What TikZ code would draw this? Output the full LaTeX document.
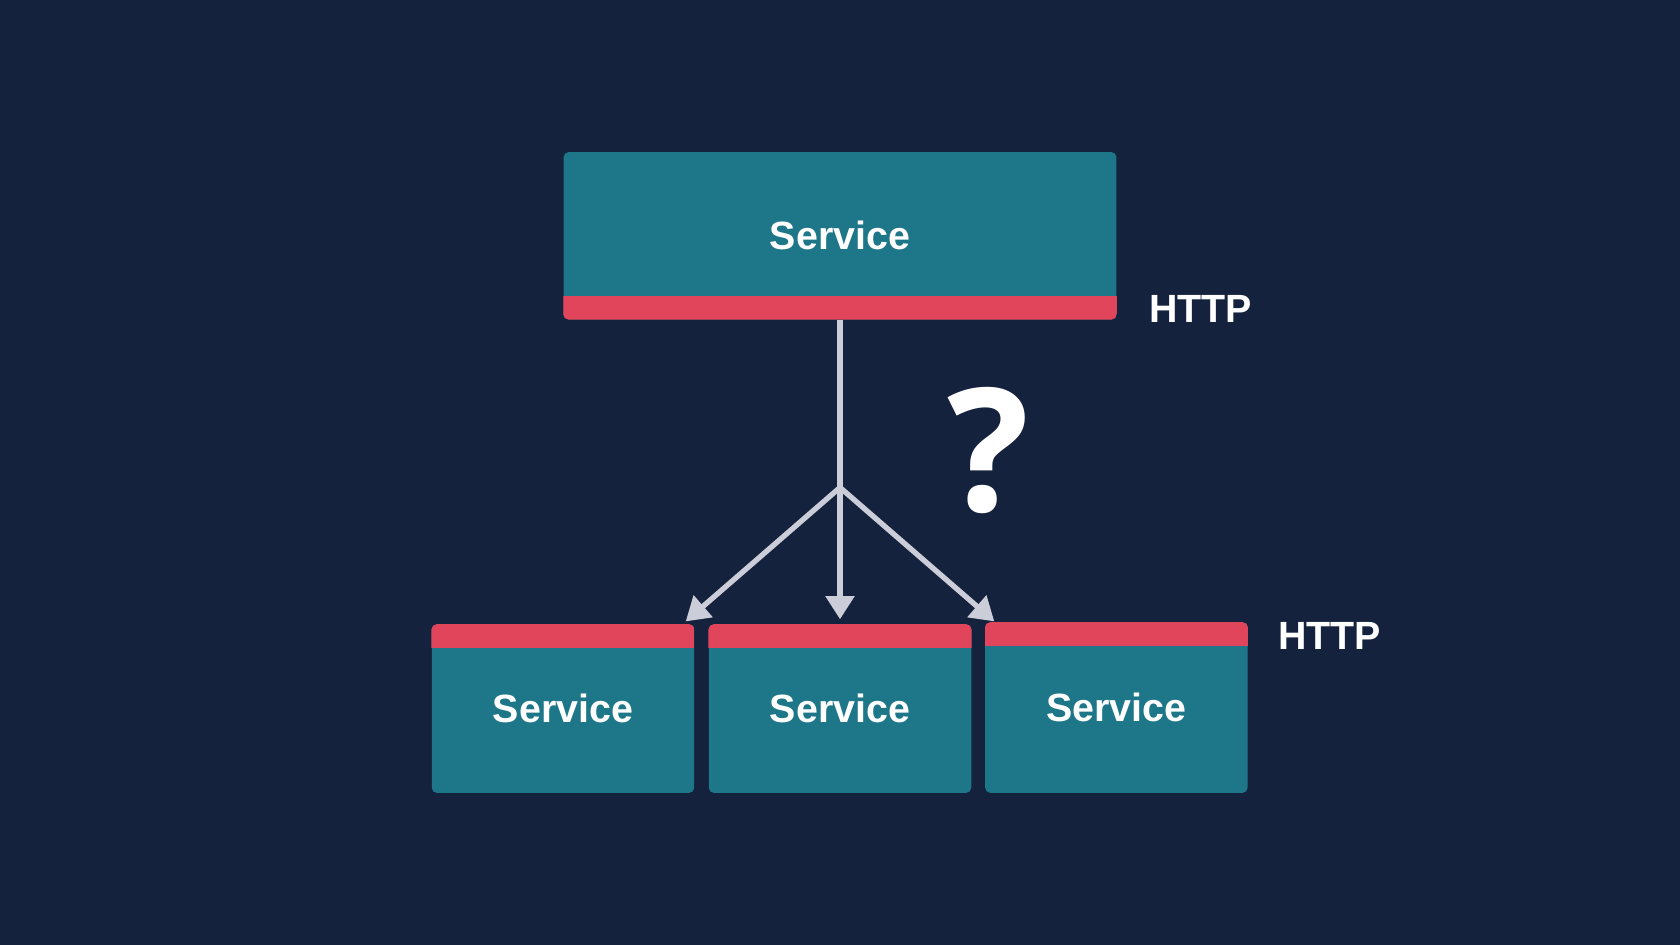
\documentclass[tikz,border=0pt]{standalone}
\usepackage{fontspec}
\setmainfont{Liberation Sans}
\newfontfamily\askfont{Open Sans}
\usetikzlibrary{arrows.meta}
\definecolor{navybg}{RGB}{20,34,62}
\definecolor{svcteal}{RGB}{30,119,137}
\definecolor{httpred}{RGB}{224,69,91}
\definecolor{wiregray}{RGB}{203,205,216}
\begin{document}
\begin{tikzpicture}[x=0.025cm, y=-0.025cm,
		svcbox/.style={fill=svcteal, rounded corners=0.13cm, text=white, inner sep=0pt, font=\bfseries\fontsize{28}{30}\selectfont},
		httplabel/.style={text=white, inner sep=0pt, anchor=west, font=\bfseries\fontsize{28}{30}\selectfont},
		wire/.style={draw=wiregray, line width=3.8pt},
		arr/.style={wire, -{Triangle[width=0.7cm, length=0.58cm]}}]
		\fill[navybg] (0,0) rectangle (1680,945);
		% caller and the three copies
		\node[svcbox, minimum width=13.82cm, minimum height=4.18cm] (svc) at (840,235.7) {Service};
		\node[svcbox, minimum width=6.56cm, minimum height=4.21cm] (svcA) at (563,708.7) {Service};
		\node[svcbox, minimum width=6.56cm, minimum height=4.21cm] (svcB) at (840,708.7) {Service};
		\node[svcbox, minimum width=6.56cm, minimum height=4.26cm] (svcC) at (1116.4,707.7) {Service};
		% red HTTP bands
		\begin{scope}
		\clip[rounded corners=0.13cm] (svc.south west) rectangle (svc.north east);
		\fill[httpred] (svc.south west) rectangle ([yshift=0.59cm]svc.south east);
		\end{scope}
		\foreach \s in {svcA,svcB,svcC}{
			\begin{scope}
			\clip[rounded corners=0.13cm] (\s.south west) rectangle (\s.north east);
			\fill[httpred] (\s.north west) rectangle ([yshift=-0.59cm]\s.north east);
			\end{scope}
		}
		\node[httplabel] (httpTop) at (1149,308.6) {HTTP};
		\node[httplabel] (httpBot) at (1278,636.4) {HTTP};
		\node[text=white, inner sep=0pt, font=\askfont\bfseries\fontsize{122}{130}\selectfont] (ask) at (988,451) {?};
		% fan-out
		\coordinate (split) at (840,487.5);
		\coordinate (tipA) at (685.7,621.4);
		\coordinate (tipB) at (840,619.3);
		\coordinate (tipC) at (994.3,621.4);
		\draw[wire] (svc.south) -- (split);
		\draw[arr] (split) -- (tipA);
		\draw[arr] (split) -- (tipB);
		\draw[arr] (split) -- (tipC);
\end{tikzpicture}
\end{document}
